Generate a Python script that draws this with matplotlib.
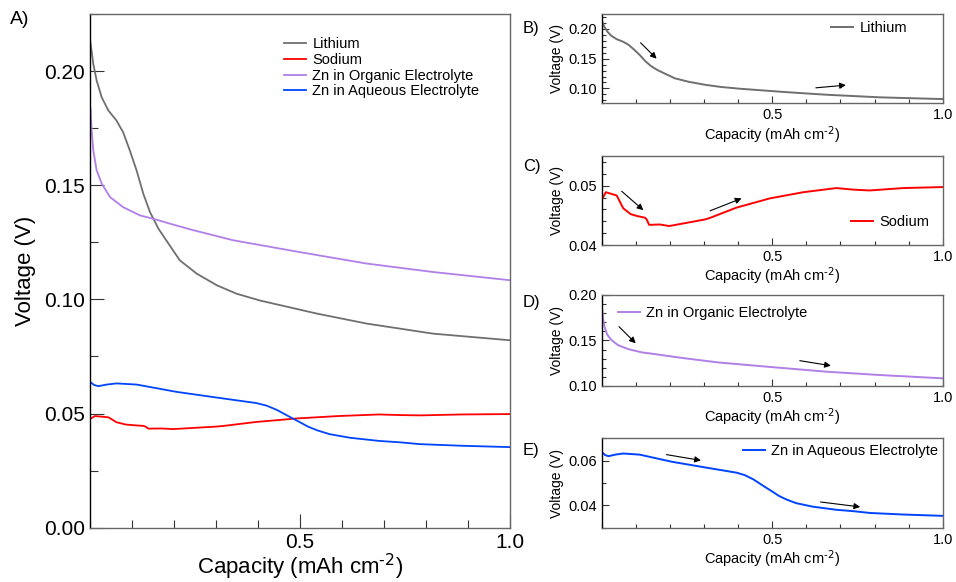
import matplotlib
matplotlib.use("Agg")
import matplotlib.pyplot as plt
from matplotlib.ticker import MultipleLocator, FixedLocator, FormatStrFormatter

plt.rcParams['font.family'] = ['Liberation Sans', 'DejaVu Sans']
plt.rcParams['mathtext.default'] = 'regular'

# --- data (capacity in mAh cm-2, voltage in V) ---
li_cap = [0.0, 0.008, 0.016, 0.028, 0.044, 0.063, 0.079, 0.095, 0.111, 0.127, 0.143,
          0.163, 0.183, 0.214, 0.254, 0.302, 0.349, 0.405, 0.54, 0.659, 0.817, 1.0]
li_volt = [0.2141, 0.2031, 0.1958, 0.1885, 0.1827, 0.1784, 0.1732, 0.1652, 0.1565, 0.1463, 0.1382,
           0.131, 0.1255, 0.1171, 0.1113, 0.1062, 0.1025, 0.0995, 0.0938, 0.0894, 0.085, 0.0821]

na_cap = [0.0, 0.012, 0.024, 0.044, 0.063, 0.085, 0.103, 0.127, 0.132, 0.139, 0.171, 0.198, 0.249,
          0.302, 0.317, 0.395, 0.493, 0.591, 0.688, 0.737, 0.786, 0.884, 1.0]
na_volt = [0.0476, 0.0489, 0.0487, 0.04835, 0.0462, 0.0452, 0.0449, 0.0446, 0.0443, 0.0434, 0.04346, 0.0432, 0.04374,
           0.0443, 0.04456, 0.0463, 0.04786, 0.0489, 0.0496, 0.04934, 0.0492, 0.0496, 0.04977]

zno_cap = [0.0016, 0.004, 0.008, 0.016, 0.028, 0.048, 0.079, 0.119, 0.151, 0.19, 0.238,
           0.341, 0.5, 0.659, 0.817, 1.0]
zno_volt = [0.1835, 0.174, 0.1652, 0.1565, 0.1507, 0.1448, 0.1404, 0.1368, 0.1353, 0.1332, 0.1307,
            0.1259, 0.1207, 0.1157, 0.112, 0.1084]

zna_cap = [0.0, 0.01, 0.02, 0.04, 0.063, 0.111, 0.206, 0.302, 0.396, 0.42, 0.445, 0.474,
           0.5, 0.52, 0.542, 0.57, 0.619, 0.689, 0.738, 0.786, 0.884, 1.0]
zna_volt = [0.0639, 0.0625, 0.062, 0.0627, 0.0632, 0.0627, 0.0595, 0.057, 0.0546, 0.0535, 0.0516, 0.0487,
            0.0462, 0.0442, 0.0426, 0.0410, 0.0394, 0.0380, 0.0374, 0.0366, 0.0359, 0.0353]

names = ["Lithium", "Sodium", "Zn in Organic Electrolyte", "Zn in Aqueous Electrolyte"]
colors = ["#6f6f6f", "#ff0000", "#b07fe8", "#0044ff"]
series = [(li_cap, li_volt), (na_cap, na_volt), (zno_cap, zno_volt), (zna_cap, zna_volt)]

xlabel = "Capacity (mAh cm$^{\\text{-2}}$)"

W, H = 956, 582
fig = plt.figure(figsize=(W / 100, H / 100), dpi=100)


def style_axes(ax, fs, major_len, minor_len):
    for side in ['top', 'right', 'bottom']:
        ax.spines[side].set_color('#666666')
    ax.spines['left'].set_color('black')
    for s in ax.spines.values():
        s.set_linewidth(1.0)
    ax.tick_params(which='both', direction='in', top=False, right=False, labelsize=fs, color='#333333')
    ax.tick_params(which='major', length=major_len, width=0.8)
    ax.tick_params(which='minor', length=minor_len, width=0.8)
    ax.xaxis.set_major_locator(FixedLocator([0.5, 1.0]))
    ax.xaxis.set_minor_locator(MultipleLocator(0.1))
    ax.xaxis.set_major_formatter(FormatStrFormatter('%.1f'))
    ax.set_xlim(0, 1.0)


# --- panel A ---
axA = fig.add_axes([0.0941, 0.0933, 0.4393, 0.8826])
for (c, v), name, col in zip(series, names, colors):
    axA.plot(c, v, color=col, lw=1.3, label=name)
style_axes(axA, 15, 10, 6)
axA.set_ylim(0, 0.225)
axA.yaxis.set_major_locator(MultipleLocator(0.05))
axA.yaxis.set_minor_locator(MultipleLocator(0.025))
axA.yaxis.set_major_formatter(FormatStrFormatter('%.2f'))
axA.set_ylabel("Voltage (V)", fontsize=16, labelpad=6)
axA.set_xlabel(xlabel, fontsize=16, labelpad=0)
axA.legend(loc='upper left', bbox_to_anchor=(0.462, 0.955), frameon=False, fontsize=10.5,
           handlelength=1.5, handletextpad=0.45, labelspacing=0.12, borderaxespad=0, borderpad=0)
fig.text(10 / W, 1 - 20 / H, "A)", fontsize=14, va='center')

# --- small panels B-E ---
small = [
    ("B)", 28, 0, [0.6294, 0.8225, 0.3567, 0.1534], (0.075, 0.225), 0.05, 0.01,
     dict(loc='center right', bbox_to_anchor=(0.895, 0.843)),
     [((0.114, 0.1767), (0.161, 0.150)), ((0.628, 0.101), (0.716, 0.1055))]),
    ("C)", 167, 1, [0.6294, 0.579, 0.3567, 0.1529], (0.04, 0.055), 0.01, 0.002,
     dict(loc='center right', bbox_to_anchor=(0.96, 0.26)),
     [((0.0587, 0.04906), (0.122, 0.04588)), ((0.318, 0.04577), (0.41, 0.04786))]),
    ("D)", 302, 2, [0.6294, 0.3368, 0.3567, 0.1564], (0.10, 0.20), 0.05, 0.01,
     dict(loc='center left', bbox_to_anchor=(0.047, 0.80)),
     [((0.0507, 0.1652), (0.0997, 0.1469)), ((0.581, 0.1278), (0.672, 0.1223))]),
    ("E)", 450, 3, [0.6294, 0.0933, 0.3567, 0.1536], (0.03, 0.07), 0.02, 0.01,
     dict(loc='center right', bbox_to_anchor=(0.987, 0.858)),
     [((0.19, 0.0627), (0.291, 0.0601)), ((0.642, 0.0415), (0.758, 0.0393))]),
]

for tag, tag_y, idx, rect, ylim, major, minor, legkw, arrows in small:
    ax = fig.add_axes(rect)
    c, v = series[idx]
    ax.plot(c, v, color=colors[idx], lw=1.4, label=names[idx])
    style_axes(ax, 10.5, 5, 3)
    ax.set_ylim(*ylim)
    ax.yaxis.set_major_locator(MultipleLocator(major))
    ax.yaxis.set_minor_locator(MultipleLocator(minor))
    ax.yaxis.set_major_formatter(FormatStrFormatter('%.2f'))
    ax.set_ylabel("Voltage (V)", fontsize=10, labelpad=3)
    ax.set_xlabel(xlabel, fontsize=10.5, labelpad=1)
    ax.legend(frameon=False, fontsize=10.5, handlelength=1.5, handletextpad=0.45,
              borderaxespad=0, borderpad=0, **legkw)
    for start, end in arrows:
        ax.annotate("", xy=end, xytext=start,
                    arrowprops=dict(arrowstyle='-|>', color='black', lw=0.8,
                                    mutation_scale=9, shrinkA=0, shrinkB=0))
    fig.text(523 / W, 1 - tag_y / H, tag, fontsize=12, va='center')

fig.savefig("out.png", dpi=100)
